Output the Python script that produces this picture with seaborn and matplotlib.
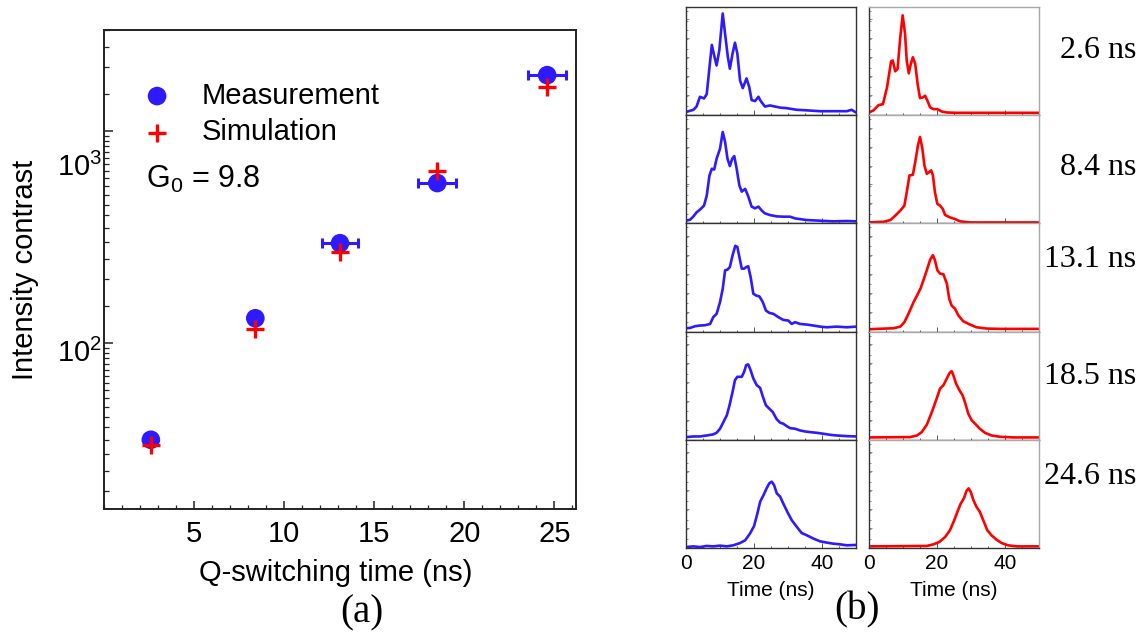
import numpy as np
import matplotlib
matplotlib.use("Agg")
import matplotlib.pyplot as plt
import matplotlib.ticker as mticker
from matplotlib.transforms import ScaledTranslation
import seaborn as sns

# ---------------- panel (a) data ----------------
q_time = [2.6, 8.4, 13.1, 18.5, 24.6]
q_time_err = [0.3, 0.3, 1.0, 1.05, 1.05]
contrast_meas = [35, 131, 296, 569, 1837]
contrast_sim = [33, 116, 269, 648, 1614]
series_labels = ["Measurement", "Simulation"]
gain_label = "G$_0$ = 9.8"
x_ticks_a = [5, 10, 15, 20, 25]
y_ticks_a = [100, 1000]

# ---------------- panel (b) data (normalised pulse amplitude vs time, ns) ----------------
pulse_labels = ["2.6 ns", "8.4 ns", "13.1 ns", "18.5 ns", "24.6 ns"]

t_m1 = [0, 2.2, 3.1, 4.1, 5.3, 6.1, 6.9, 7.6, 8.3, 9.0, 9.8, 10.8, 11.5, 12.3, 12.9, 13.7, 14.4, 15.1, 15.9, 16.7,
        17.8, 18.6, 19.3, 20.3, 21.3, 22.0, 23.2, 24.7, 26.2, 27.7, 29.6, 32.6, 35.5, 39.4, 43.3, 47.3, 48.7, 50]
a_m1 = [0.03, 0.05, 0.08, 0.17, 0.155, 0.195, 0.44, 0.65, 0.55, 0.46, 0.60, 0.94, 0.75, 0.54, 0.43, 0.57, 0.67, 0.57, 0.32, 0.25,
        0.34, 0.26, 0.14, 0.13, 0.17, 0.13, 0.08, 0.09, 0.08, 0.07, 0.065, 0.05, 0.045, 0.037, 0.037, 0.037, 0.05, 0.025]
t_s1 = [0, 1.4, 2.8, 4.1, 5.3, 6.5, 7.0, 7.7, 8.4, 9.2, 9.9, 10.6, 11.1, 11.7, 12.3, 12.9, 13.6, 14.3, 15.0, 15.8,
        16.5, 17.2, 18.0, 19.0, 20.1, 21.4, 22.9, 25.8, 50]
a_s1 = [0.025, 0.046, 0.093, 0.102, 0.257, 0.498, 0.505, 0.406, 0.427, 0.721, 0.923, 0.752, 0.505, 0.387, 0.474, 0.536, 0.474, 0.288, 0.158, 0.164,
        0.180, 0.133, 0.071, 0.056, 0.056, 0.034, 0.025, 0.022, 0.022]

t_m2 = [0, 1.2, 2.2, 3.1, 4.1, 5.3, 6.1, 6.9, 7.6, 8.3, 9.0, 10.0, 10.8, 11.5, 12.2, 12.9, 13.6, 14.2, 14.9, 15.7,
        16.4, 17.4, 18.3, 19.3, 20.3, 21.3, 22.3, 23.2, 24.7, 26.7, 28.6, 30.6, 32.1, 33.5, 35.5, 39.4, 43.3, 47.3, 50]
a_m2 = [0.025, 0.034, 0.065, 0.102, 0.127, 0.164, 0.257, 0.443, 0.505, 0.498, 0.598, 0.690, 0.845, 0.752, 0.598, 0.530, 0.598, 0.622, 0.505, 0.350,
        0.294, 0.319, 0.251, 0.155, 0.139, 0.155, 0.118, 0.093, 0.077, 0.065, 0.062, 0.062, 0.046, 0.040, 0.031, 0.025, 0.019, 0.022, 0.019]
t_s2 = [0, 4.3, 6.3, 7.7, 9.2, 10.4, 11.1, 11.9, 12.9, 13.6, 14.4, 15.0, 15.7, 16.3, 17.0, 17.7, 18.3, 18.8, 19.4, 20.1,
        20.9, 21.7, 22.4, 23.8, 25.3, 26.8, 29.7, 50]
a_s2 = [0.009, 0.015, 0.031, 0.071, 0.118, 0.164, 0.288, 0.443, 0.449, 0.567, 0.721, 0.799, 0.690, 0.536, 0.458, 0.474, 0.490, 0.443, 0.288, 0.180,
        0.164, 0.133, 0.077, 0.056, 0.040, 0.019, 0.009, 0.009]

t_m3 = [0, 1.2, 2.7, 4.1, 5.6, 7.1, 8.0, 9.0, 10.0, 10.8, 11.5, 12.2, 12.9, 13.7, 14.5, 15.1, 15.7, 16.4, 17.1, 17.8,
        18.3, 19.0, 19.8, 20.6, 21.6, 22.6, 23.5, 24.5, 25.7, 27.2, 28.6, 30.1, 31.1, 32.1, 33.5, 35.5, 37.5, 39.4, 41.4, 44.3,
        47.3, 50]
a_m3 = [0.031, 0.034, 0.050, 0.056, 0.059, 0.071, 0.133, 0.164, 0.272, 0.395, 0.566, 0.573, 0.597, 0.706, 0.793, 0.783, 0.690, 0.582, 0.582, 0.598,
        0.604, 0.505, 0.350, 0.334, 0.325, 0.272, 0.195, 0.173, 0.164, 0.133, 0.108, 0.102, 0.071, 0.087, 0.071, 0.065, 0.056, 0.046, 0.040, 0.046,
        0.040, 0.046]
t_s3 = [0, 7.2, 9.2, 10.4, 11.6, 13.1, 14.3, 15.2, 16.0, 17.0, 18.0, 18.8, 19.4, 20.1, 20.9, 21.9, 22.9, 23.6, 24.3, 25.3,
        26.3, 27.7, 29.7, 31.6, 34.6, 38.5, 50]
a_s3 = [0.022, 0.031, 0.046, 0.087, 0.164, 0.272, 0.344, 0.402, 0.474, 0.567, 0.666, 0.706, 0.659, 0.567, 0.536, 0.529, 0.443, 0.303, 0.241, 0.211,
        0.149, 0.096, 0.065, 0.040, 0.028, 0.025, 0.025]

t_m4 = [0, 2.2, 4.1, 6.1, 8.0, 9.0, 10.0, 11.0, 12.0, 12.8, 13.7, 14.4, 15.1, 16.4, 17.1, 17.7, 18.3, 19.0, 19.8, 20.8,
        21.8, 22.6, 23.5, 24.5, 25.5, 26.7, 27.7, 28.6, 29.6, 30.6, 32.1, 33.5, 35.0, 36.5, 38.4, 40.4, 42.4, 44.3, 47.3, 50]
a_m4 = [0.025, 0.031, 0.031, 0.040, 0.050, 0.065, 0.102, 0.164, 0.226, 0.319, 0.443, 0.551, 0.582, 0.582, 0.628, 0.690, 0.697, 0.644, 0.567, 0.505,
        0.480, 0.399, 0.319, 0.288, 0.257, 0.189, 0.158, 0.149, 0.127, 0.108, 0.102, 0.087, 0.077, 0.071, 0.065, 0.056, 0.046, 0.040, 0.034, 0.031]
t_s4 = [0, 12.1, 14.1, 15.5, 17.0, 18.5, 19.9, 20.9, 21.9, 22.9, 23.6, 24.3, 24.8, 25.6, 26.6, 27.5, 28.2, 29.2, 30.2, 31.2,
        32.6, 34.1, 36.0, 38.5, 42.4, 50]
a_s4 = [0.022, 0.025, 0.040, 0.071, 0.139, 0.257, 0.381, 0.474, 0.505, 0.567, 0.613, 0.635, 0.598, 0.520, 0.458, 0.412, 0.350, 0.241, 0.180, 0.149,
        0.102, 0.065, 0.040, 0.028, 0.022, 0.022]

t_m5 = [0, 2.2, 4.1, 6.1, 8.0, 10.0, 12.0, 13.9, 15.9, 17.4, 18.8, 20.0, 21.0, 21.8, 22.8, 23.7, 24.5, 25.2, 25.9, 26.7,
        27.7, 28.6, 29.8, 31.1, 32.6, 34.0, 35.5, 37.5, 39.4, 41.4, 43.3, 45.3, 47.3, 50]
a_m5 = [0.009, 0.015, 0.009, 0.019, 0.015, 0.022, 0.015, 0.025, 0.046, 0.071, 0.133, 0.201, 0.319, 0.427, 0.489, 0.551, 0.598, 0.613, 0.582, 0.505,
        0.474, 0.412, 0.334, 0.257, 0.195, 0.139, 0.118, 0.087, 0.062, 0.050, 0.040, 0.034, 0.025, 0.028]
t_s5 = [0, 17.0, 19.0, 20.7, 22.4, 23.8, 25.0, 26.0, 27.0, 27.9, 28.7, 29.3, 29.9, 30.7, 31.6, 32.6, 33.6, 34.8, 36.0, 37.5,
        39.0, 40.9, 43.4, 50]
a_s5 = [0.015, 0.019, 0.034, 0.056, 0.102, 0.164, 0.251, 0.334, 0.412, 0.458, 0.529, 0.551, 0.520, 0.443, 0.381, 0.334, 0.257, 0.164, 0.118, 0.077,
        0.046, 0.025, 0.015, 0.015]

time_ticks_b = [0, 20, 40]

# ---------------- style ----------------
sns.set_theme(style="white")
plt.rcParams["font.family"] = ["Liberation Sans", "DejaVu Sans"]
plt.rcParams["mathtext.default"] = "regular"
plt.rcParams["text.color"] = "black"
plt.rcParams["axes.labelcolor"] = "black"
plt.rcParams["xtick.color"] = "black"
plt.rcParams["ytick.color"] = "black"

BLUE = "#2d1aff"
RED = "#ff0000"
SERIF = ["Liberation Serif", "DejaVu Serif"]
W, H = 1148, 635

fig = plt.figure(figsize=(W / 100, H / 100), dpi=100)
fig.patch.set_facecolor("white")


def box(l, t, r, b):
    return [l / W, 1 - b / H, (r - l) / W, (b - t) / H]


# ---------------- panel (a) ----------------
ax = fig.add_axes(box(104, 30, 576, 509))
ax.errorbar(q_time, contrast_meas, xerr=q_time_err, fmt="none", ecolor=BLUE,
            elinewidth=2.2, capsize=3.8, capthick=2.2, zorder=2)
sns.scatterplot(x=q_time, y=contrast_meas, ax=ax, color=BLUE, s=180, marker="o",
                edgecolor="none", label=series_labels[0], zorder=3)
sns.scatterplot(x=q_time, y=contrast_sim, ax=ax, color=RED, s=170, marker="+",
                linewidth=2.4, label=series_labels[1], zorder=4)
ax.set_yscale("log")
ax.set_xlim(0, 26.2)
ax.set_ylim(16.5, 3000)
ax.set_xticks(x_ticks_a)
ax.xaxis.set_minor_locator(mticker.MultipleLocator(1))
ax.set_yticks(y_ticks_a)
ax.yaxis.set_minor_locator(mticker.LogLocator(base=10, subs=np.arange(1.5, 10, 0.5), numticks=30))
ax.yaxis.set_minor_formatter(mticker.NullFormatter())
ax.tick_params(which="both", direction="in", left=True, bottom=True, top=False, right=False,
               colors="#222222", labelcolor="black", labelsize=21)
ax.tick_params(axis="x", which="major", length=6, width=1.1, pad=8)
ax.tick_params(axis="x", which="minor", length=3, width=0.9)
ax.tick_params(axis="y", which="major", length=6.5, width=1.1, pad=1.5)
ax.tick_params(axis="y", which="minor", length=3.5, width=0.9)
for s in ax.spines.values():
    s.set_color("#222222")
    s.set_linewidth(1.4)

ax.set_xlabel("Q-switching time (ns)", fontsize=21)
ax.xaxis.label.set_verticalalignment("center")
ax.xaxis.set_label_coords(0.49, (509 - 573) / 479)
ax.set_ylabel("Intensity contrast", fontsize=21)
ax.yaxis.label.set_verticalalignment("center")
ax.yaxis.set_label_coords(-0.167, 0.5)

# the 10^3 label in the original sits lower than its tick
fig.canvas.draw()
offsets = {100: -0.07, 1000: -0.33}
for tick, val in zip(ax.yaxis.get_major_ticks(), ax.get_yticks()):
    off = offsets.get(int(round(val)), 0)
    tick.label1.set_transform(tick.label1.get_transform() + ScaledTranslation(0, off, fig.dpi_scale_trans))

handles, labels = ax.get_legend_handles_labels()
ax.legend(handles, labels, loc="upper left", bbox_to_anchor=(0.0816, 0.892), frameon=False,
          fontsize=21, handlelength=1.0, handletextpad=1.02, labelspacing=0.3,
          borderpad=0, borderaxespad=0, scatterpoints=1)
ax.text(0.089, 0.689, gain_label, transform=ax.transAxes, fontsize=22, va="center", ha="left")

# ---------------- panel (b) ----------------
meas_t = [t_m1, t_m2, t_m3, t_m4, t_m5]
meas_a = [a_m1, a_m2, a_m3, a_m4, a_m5]
sim_t = [t_s1, t_s2, t_s3, t_s4, t_s5]
sim_a = [a_s1, a_s2, a_s3, a_s4, a_s5]

top, bottom = 7, 548
rh = (bottom - top) / 5
label_y = [50, 167, 260, 377, 477]
for i in range(5):
    t0 = top + i * rh
    axL = fig.add_axes(box(686, t0, 856, t0 + rh))
    axR = fig.add_axes(box(869, t0, 1039, t0 + rh))
    sns.lineplot(x=meas_t[i], y=meas_a[i], ax=axL, color=BLUE, linewidth=1.9, sort=False, estimator=None)
    sns.lineplot(x=sim_t[i], y=sim_a[i], ax=axR, color=RED, linewidth=1.9, sort=False, estimator=None)
    for a, col in ((axL, "left"), (axR, "right")):
        a.set_xlim(0, 50)
        a.set_ylim(0, 1)
        a.set_xticks(time_ticks_b)
        a.xaxis.set_minor_locator(mticker.MultipleLocator(5))
        a.set_yticks(np.arange(0.185, 0.95, 0.175))
        a.yaxis.set_minor_locator(mticker.MultipleLocator(0.0875))
        a.tick_params(axis="y", which="both", direction="in", left=True, right=False,
                      labelleft=False, color="#777777", width=0.6)
        a.tick_params(axis="y", which="major", length=2.5)
        a.tick_params(axis="y", which="minor", length=1.2)
        a.tick_params(axis="x", which="both", direction="in", bottom=True, top=False,
                      color="#555555", width=0.7, labelsize=15, labelcolor="black", pad=4)
        a.tick_params(axis="x", which="major", length=3.5)
        a.tick_params(axis="x", which="minor", length=1.8)
        a.set_ylabel("")
        if i < 4:
            a.tick_params(axis="x", labelbottom=False)
            a.set_xlabel("")
        else:
            a.set_xlabel("Time (ns)", fontsize=15)
            a.xaxis.label.set_verticalalignment("center")
            a.xaxis.set_label_coords(0.5, (548 - 590) / rh)
        for name, s in a.spines.items():
            s.set_linewidth(1.0)
            if col == "right" and name in ("top", "right"):
                s.set_color("#a8a8a8")
            else:
                s.set_color("#333333")
    fig.text(1136 / W, 1 - label_y[i] / H, pulse_labels[i], ha="right", va="center",
             family=SERIF, fontsize=23)

fig.text(362 / W, 1 - 613 / H, "(a)", ha="center", va="center", family=SERIF, fontsize=28)
fig.text(857 / W, 1 - 610 / H, "(b)", ha="center", va="center", family=SERIF, fontsize=28)

fig.savefig("out.png", dpi=100, facecolor="white")
